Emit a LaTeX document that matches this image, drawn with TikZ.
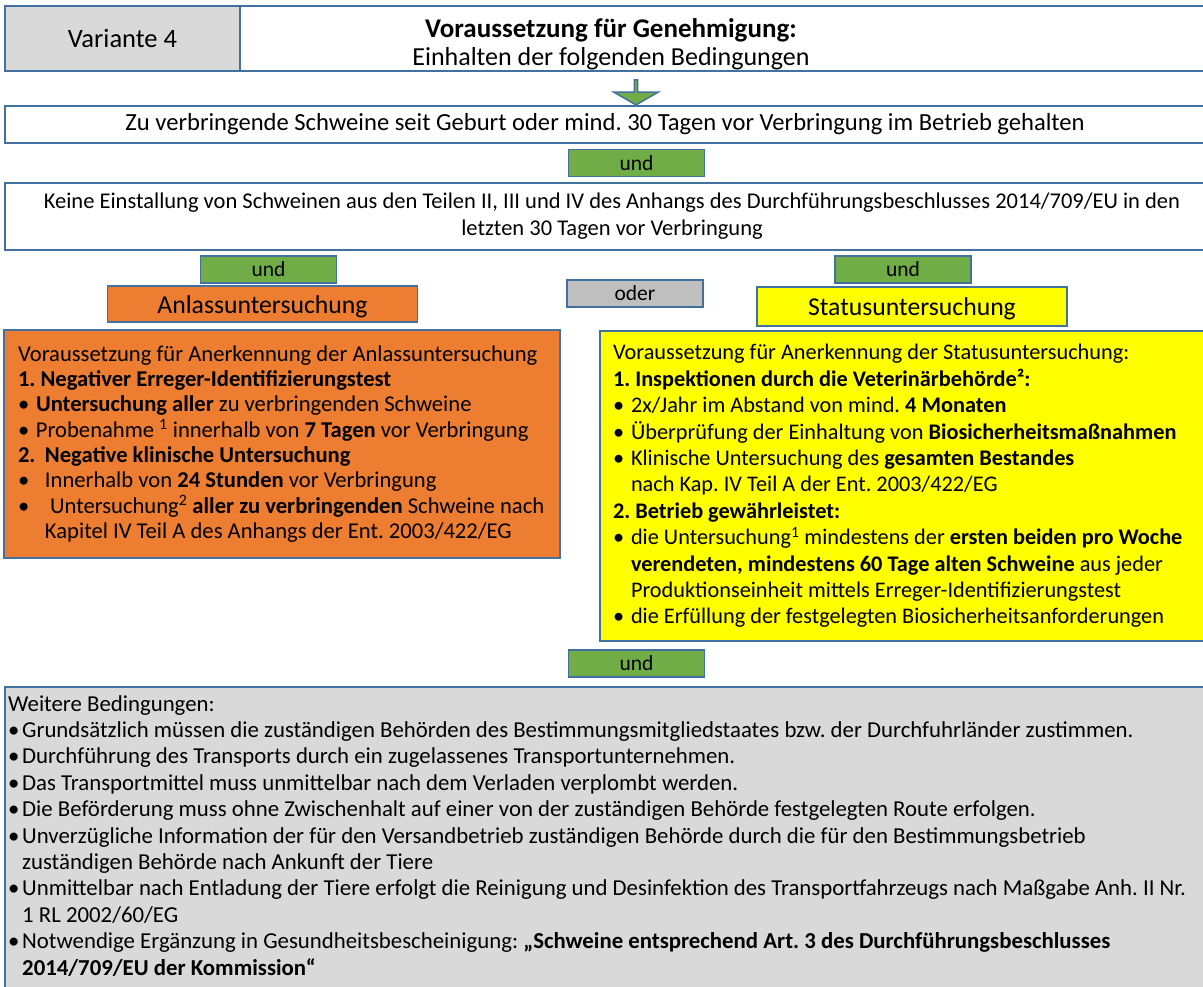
\documentclass[tikz,border=0pt]{standalone}
\usepackage{fontspec}
\setmainfont{Carlito}
\usepackage{tikz}
\usetikzlibrary{positioning}
\usetikzlibrary{shapes.arrows}
\frenchspacing
\definecolor{rand}{HTML}{41719C}
\definecolor{gruen}{HTML}{70AD47}
\definecolor{anlassorange}{HTML}{ED7D31}
\definecolor{gelb}{HTML}{FFFF00}
\definecolor{hellgrau}{HTML}{D9D9D9}
\definecolor{grau}{HTML}{BFBFBF}
\tikzstyle{box} = [rectangle, draw=rand, line width=1.5pt, inner sep=0pt]
\tikzstyle{und} = [box, fill=gruen, minimum width=136, minimum height=27,
    font=\fontsize{21.5}{25}\selectfont]
\tikzstyle{kopf} = [box, minimum width=310, text height=20, text depth=2,
    font=\fontsize{25.7}{30}\selectfont]
\tikzstyle{liste} = [box, align=flush left, inner xsep=14pt,
    font=\fontsize{22.6}{25.3}\selectfont]
\tikzstyle{pfeil} = [single arrow, shape border rotate=270, draw=rand,
    fill=gruen, line width=1.5pt, minimum height=25, minimum width=44,
    single arrow head extend=10, single arrow tip angle=120, inner sep=0pt]
\newcommand{\bul}{\makebox[18pt][l]{\textbullet}}

\begin{document}
\begin{tikzpicture}[x=1pt, y=-1pt]
    \useasboundingbox (0,0) rectangle (1203,987);
    \clip (0,0) rectangle (1203,987);
    % Place nodes
    \node[box, fill=hellgrau, minimum width=235, minimum height=65,
        font=\fontsize{26.5}{30}\selectfont] (variante) at (122.5,38.5) {Variante 4};
    \node[box, fill=white, minimum width=975, minimum height=65] (titelbox) at (727.5,38.5) {};
    \node[align=center, font=\fontsize{26}{27.5}\selectfont] (titel) at (611,44.5)
        {\fontsize{27}{27.5}\selectfont\textbf{Voraussetzung für Genehmigung:}\\ Einhalten der folgenden Bedingungen};
    \node[pfeil] (pfeil) at (636,92) {};
    \node[box, minimum width=1200, minimum height=37,
        font=\fontsize{24.6}{25}\selectfont] (geburt) at (605,124.5)
        {Zu verbringende Schweine seit Geburt oder mind. 30 Tagen vor Verbringung im Betrieb gehalten};
    \node[und] (und1) at (636.5,163) {und};
    \node[box, minimum width=1214, minimum height=67, align=center,
        font=\fontsize{22.5}{27}\selectfont] (einstallung) at (612,216.5)
        {Keine Einstallung von Schweinen aus den Teilen II, III und IV des Anhangs des Durchführungsbeschlusses 2014/709/EU in den\\
         letzten 30 Tagen vor Verbringung};
    \node[und] (und2) at (268.5,269.5) {und};
    \node[und] (und3) at (903,269.5) {und};
    \node[und, fill=grau] (oder) at (635,293.5) {oder};
    \node[kopf, fill=anlassorange, minimum height=36] (anlass) at (262.5,304) {Anlassuntersuchung};
    \node[kopf, fill=gelb, minimum height=39] (status) at (912,306.5) {Statusuntersuchung};
    \node[liste, fill=anlassorange, text width=528, minimum height=228] (anlassbox) at (282,444)
        {Voraussetzung für Anerkennung der Anlassuntersuchung\\
         \textbf{1. Negativer Erreger-Identifizierungstest}\\
         \bul\textbf{Untersuchung aller} zu verbringenden Schweine\\
         \bul Probenahme \textsuperscript{1} innerhalb von \textbf{7 Tagen} vor Verbringung\\
         \textbf{\makebox[27pt][l]{2.}Negative klinische Untersuchung}\\
         \makebox[27pt][l]{\textbullet}Innerhalb von \textbf{24 Stunden} vor Verbringung\\
         \makebox[27pt][l]{\textbullet} Untersuchung\textsuperscript{2} \textbf{aller zu verbringenden} Schweine nach\\
         \hspace*{27pt}Kapitel IV Teil A des Anhangs der Ent. 2003/422/EG};
    \node[liste, fill=gelb, text width=594, inner xsep=13pt, minimum height=310,
        font=\fontsize{22.3}{26.4}\selectfont] (statusbox) at (910,486)
        {Voraussetzung für Anerkennung der Statusuntersuchung:\\
         \textbf{1. Inspektionen durch die Veterinärbehörde²:}\\
         \bul 2x/Jahr im Abstand von mind. \textbf{4 Monaten}\\
         \bul Überprüfung der Einhaltung von \textbf{Biosicherheitsmaßnahmen}\\
         \bul Klinische Untersuchung des \textbf{gesamten Bestandes}\\
         \hspace*{18pt}nach Kap. IV Teil A der Ent. 2003/422/EG\\
         \textbf{2. Betrieb gewährleistet:}\\
         \bul die Untersuchung\textsuperscript{1} mindestens der \textbf{ersten beiden pro Woche}\\
         \hspace*{18pt}\textbf{verendeten, mindestens 60 Tage alten Schweine} aus jeder\\
         \hspace*{18pt}Produktionseinheit mittels Erreger-Identifizierungstest\\
         \bul die Erfüllung der festgelegten Biosicherheitsanforderungen};
    \node[und] (und4) at (636.5,663.5) {und};
    \node[box, fill=hellgrau, minimum width=1205, minimum height=313] (weitere) at (607.5,843.5) {};
    \node[anchor=north west, align=left, inner sep=0pt,
        font=\fontsize{22.8}{26.4}\selectfont] (weitertext) at (8,695)
        {Weitere Bedingungen:\\
         \makebox[14pt][l]{\textbullet}Grundsätzlich müssen die zuständigen Behörden des Bestimmungsmitgliedstaates bzw. der Durchfuhrländer zustimmen.\\
         \makebox[14pt][l]{\textbullet}Durchführung des Transports durch ein zugelassenes Transportunternehmen.\\
         \makebox[14pt][l]{\textbullet}Das Transportmittel muss unmittelbar nach dem Verladen verplombt werden.\\
         \makebox[14pt][l]{\textbullet}Die Beförderung muss ohne Zwischenhalt auf einer von der zuständigen Behörde festgelegten Route erfolgen.\\
         \makebox[14pt][l]{\textbullet}Unverzügliche Information der für den Versandbetrieb zuständigen Behörde durch die für den Bestimmungsbetrieb\\
         \hspace*{14pt}zuständigen Behörde nach Ankunft der Tiere\\
         \makebox[14pt][l]{\textbullet}Unmittelbar nach Entladung der Tiere erfolgt die Reinigung und Desinfektion des Transportfahrzeugs nach Maßgabe Anh. II Nr.\\
         \hspace*{14pt}1 RL 2002/60/EG\\
         \makebox[14pt][l]{\textbullet}Notwendige Ergänzung in Gesundheitsbescheinigung: \textbf{„Schweine entsprechend Art. 3 des Durchführungsbeschlusses}\\
         \hspace*{14pt}\textbf{2014/709/EU der Kommission“}};
\end{tikzpicture}
\end{document}
